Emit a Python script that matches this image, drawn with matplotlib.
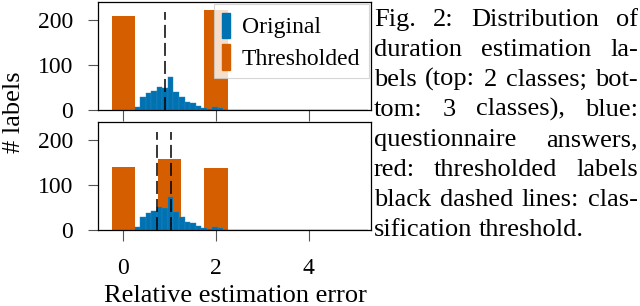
#!/usr/bin/env python3
"""Relative estimation error histograms with thresholded class labels."""
import numpy as np
import matplotlib
matplotlib.use("Agg")
import matplotlib.pyplot as plt
from matplotlib.patches import Patch

plt.rcParams["font.family"] = ["Liberation Serif", "DejaVu Serif"]
plt.rcParams["mathtext.fontset"] = "stix"

# questionnaire answers (blue histogram), regular bins
bin_start = 0.24
bin_width = 0.12
orig_counts = [6, 30, 37, 42, 52, 50, 73, 40, 28, 17, 16, 10, 5, 3, 6, 5, 1,
               0, 1, 0, 0, 0, 1, 0, 0, 0, 0, 0, 0, 0, 0, 1, 0, 0, 0, 0, 0, 0,
               0, 1, 0, 0]

# thresholded labels (orange bars)
top_classes = [0, 2]
top_counts = [209, 222]
bot_classes = [0, 1, 2]
bot_counts = [140, 157, 137]

top_thresholds = [0.89]
bot_thresholds = [0.72, 1.03]
threshold_height = 218

caption_lines = [
    "Fig. 2: Distribution of",
    "duration estimation la-",
    "bels (top: 2 classes; bot-",
    "tom: 3 classes), blue:",
    "questionnaire answers,",
    "red: thresholded labels",
    "black dashed lines: clas-",
    "sification threshold.",
]

BLUE = "#0072B2"
ORANGE = "#D55E00"

W, H = 640, 306
fig = plt.figure(figsize=(W / 100, H / 100), dpi=100, facecolor="white")


def px_axes(x0, y0, x1, y1):
    return fig.add_axes([x0 / W, 1 - y1 / H, (x1 - x0) / W, (y1 - y0) / H])


ax_top = px_axes(98, 2, 371, 110)
ax_bot = px_axes(98, 122, 371, 230)

edges = bin_start + bin_width * np.arange(len(orig_counts))

for ax, classes, counts, thr in [
    (ax_top, top_classes, top_counts, top_thresholds),
    (ax_bot, bot_classes, bot_counts, bot_thresholds),
]:
    ax.bar(classes, counts, width=0.5, color=ORANGE, zorder=1)
    ax.bar(edges, orig_counts, width=bin_width, align="edge", color=BLUE,
           edgecolor="#2a86c0", linewidth=0.3, zorder=2)
    ax.vlines(thr, 0, threshold_height, colors="black", linestyles=(0, (8.5, 3.3)),
              linewidth=1.1, zorder=3)
    ax.set_xlim(-0.55, 5.35)
    ax.set_ylim(0, 240)
    ax.set_xticks([0, 2, 4])
    ax.set_yticks([0, 100, 200])
    ax.tick_params(axis="x", direction="out", length=8, width=0.8, color="#555555",
                   labelsize=17, pad=12)
    ax.tick_params(axis="y", direction="out", length=7, width=0.8, color="#555555",
                   labelsize=17, pad=11)
    for s in ax.spines.values():
        s.set_linewidth(0.9)

ax_top.tick_params(labelbottom=False)

handles = [Patch(color=BLUE, label="Original"), Patch(color=ORANGE, label="Thresholded")]
leg = ax_top.legend(handles=handles, loc="upper right", fontsize=17,
                    handlelength=0.35, handleheight=1.3, handletextpad=0.5,
                    borderaxespad=0.1, borderpad=0.35, labelspacing=0.25,
                    framealpha=0.8, fancybox=False, edgecolor="#cccccc")
leg.get_frame().set_linewidth(0.8)

fig.text(14 / W, 1 - 112 / H, "# labels", rotation=90, ha="center", va="center", fontsize=19)
fig.text(235 / W, 1 - 302 / H, "Relative estimation error", ha="center", va="baseline", fontsize=19)

# caption, justified by hand
cap_left, cap_right = 374, 638
first_baseline, pitch = 26, 30
cap_size = 19
renderer = fig.canvas.get_renderer()
probe_two = fig.text(0, 0, "a a", fontsize=cap_size)
probe_one = fig.text(0, 0, "aa", fontsize=cap_size)
space = probe_two.get_window_extent(renderer).width - probe_one.get_window_extent(renderer).width
probe_two.remove()
probe_one.remove()
for i, line in enumerate(caption_lines):
    y = 1 - (first_baseline + i * pitch) / H
    words = line.split(" ")
    texts = [fig.text(0, y, w, fontsize=cap_size, va="baseline", ha="left") for w in words]
    widths = [t.get_window_extent(renderer).width for t in texts]
    if i == len(caption_lines) - 1 or len(words) == 1:
        gap = space
    else:
        gap = (cap_right - cap_left - sum(widths)) / (len(words) - 1)
    x = cap_left
    for t, w in zip(texts, widths):
        t.set_x(x / W)
        x += w + gap

fig.savefig("out.png", dpi=100, facecolor="white")
